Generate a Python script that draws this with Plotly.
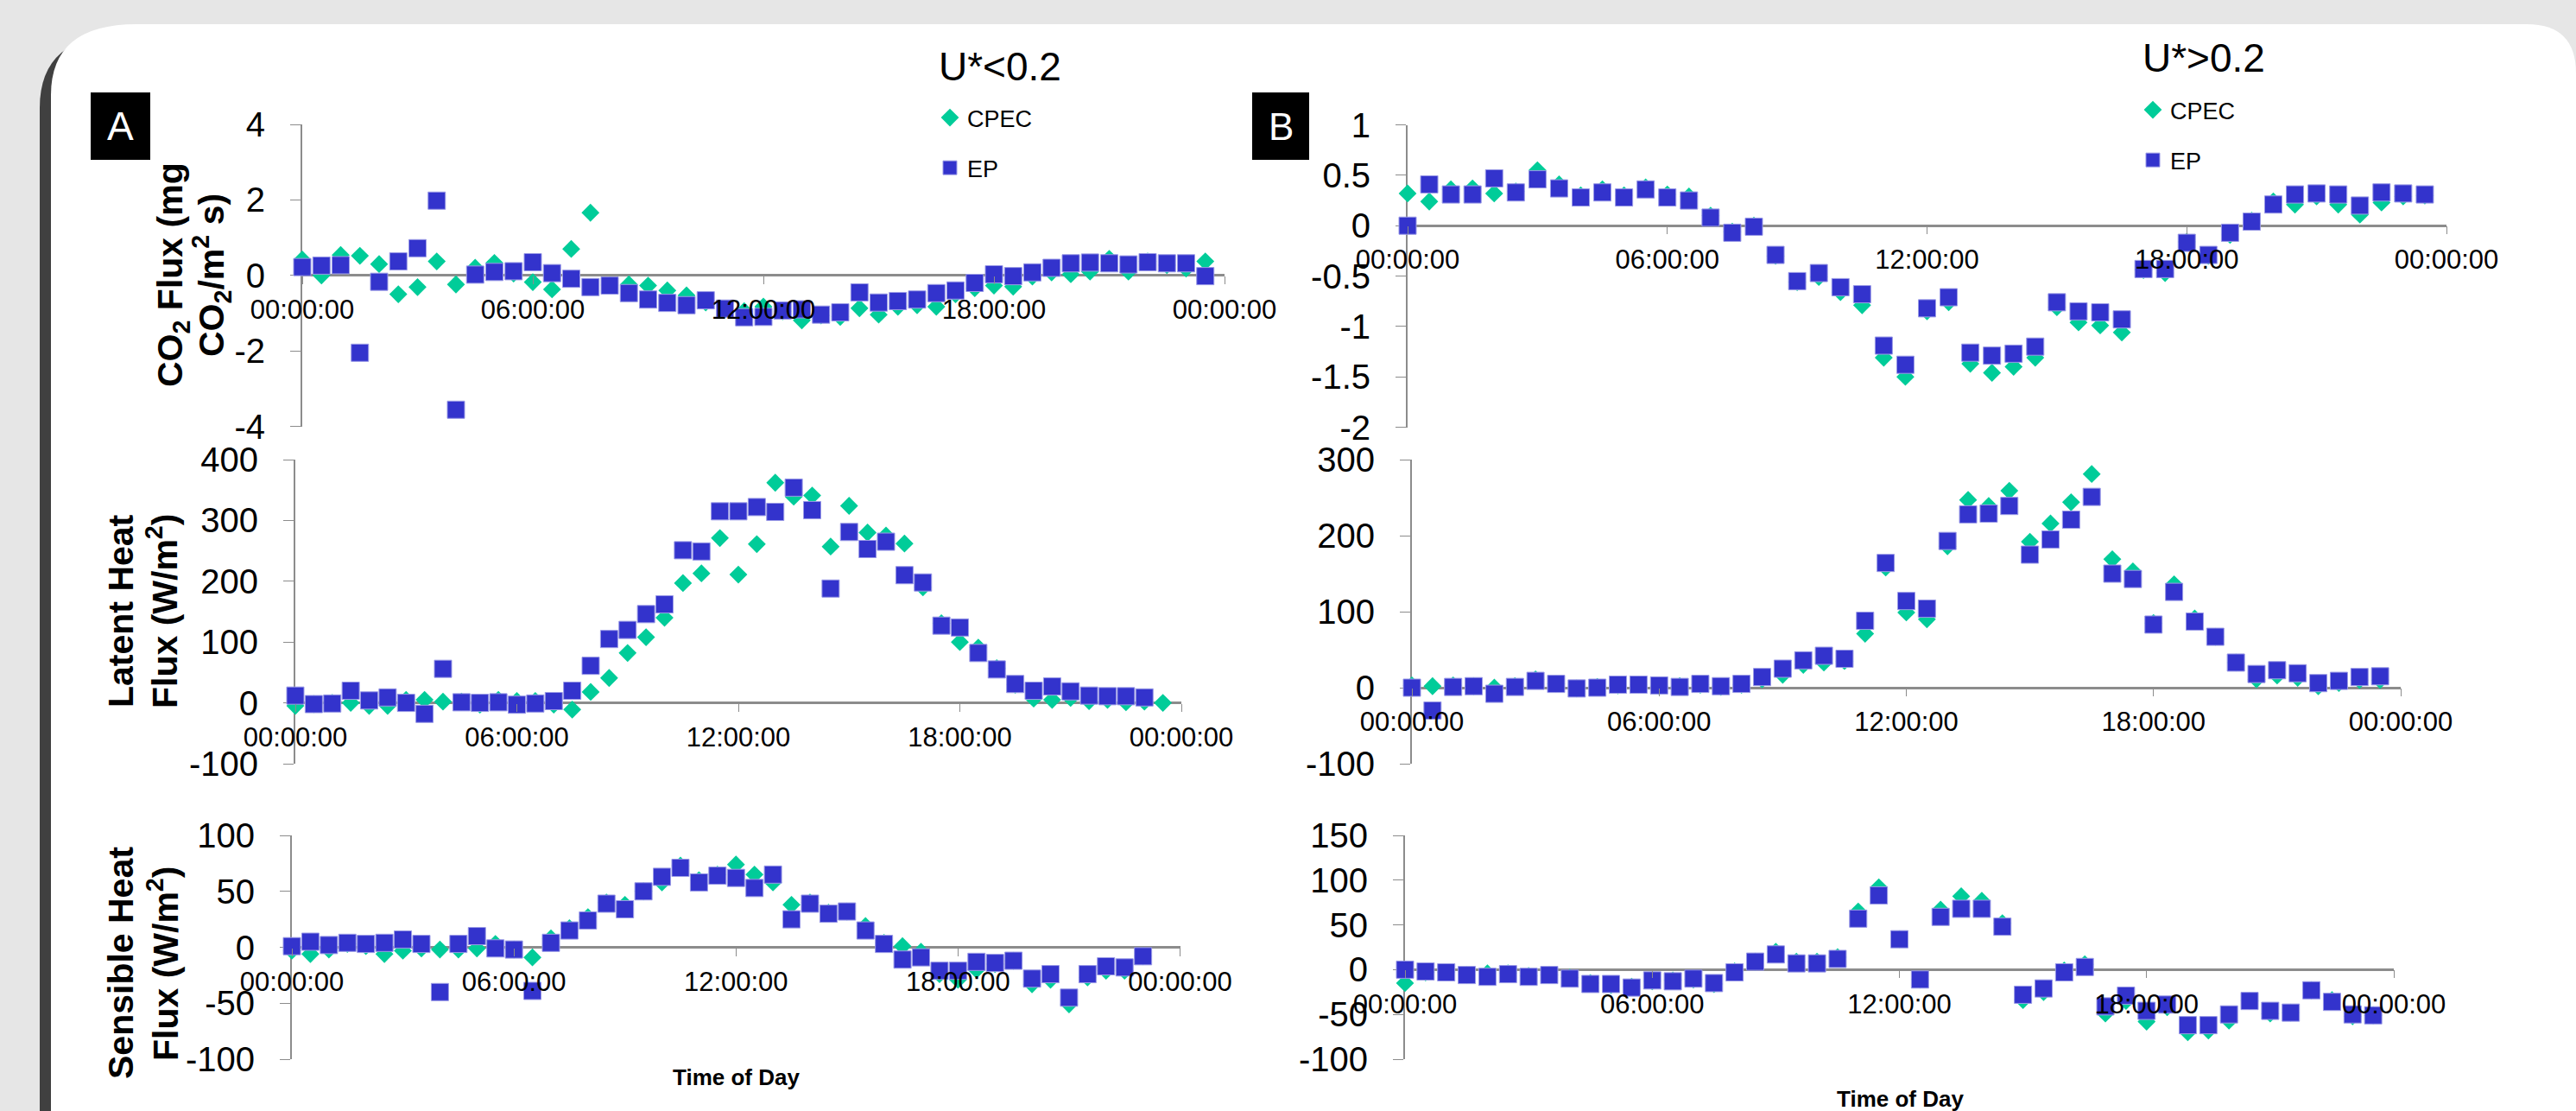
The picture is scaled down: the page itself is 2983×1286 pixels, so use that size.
import plotly.graph_objects as go

# ---------------- data ----------------
TIMES = ["00:00", "00:30", "01:00", "01:30", "02:00", "02:30", "03:00", "03:30",
         "04:00", "04:30", "05:00", "05:30", "06:00", "06:30", "07:00", "07:30",
         "08:00", "08:30", "09:00", "09:30", "10:00", "10:30", "11:00", "11:30",
         "12:00", "12:30", "13:00", "13:30", "14:00", "14:30", "15:00", "15:30",
         "16:00", "16:30", "17:00", "17:30", "18:00", "18:30", "19:00", "19:30",
         "20:00", "20:30", "21:00", "21:30", "22:00", "22:30", "23:00", "23:30"]

# U* < 0.2  (panel A)
CO2_LOW_CPEC = [0.42, 0.0, 0.54, 0.52, 0.3, -0.5, -0.31, 0.37, -0.24, 0.2, 0.33, 0.05,
                -0.18, -0.37, 0.7, 1.66, -0.26, -0.24, -0.27, -0.4, -0.53, -0.72, -0.9, -0.95,
                -0.83, -0.95, -1.19, -1.06, -1.1, -0.87, -1.04, -0.83, -0.79, -0.83, -0.5, -0.34,
                -0.27, -0.3, -0.03, 0.08, 0.03, 0.1, 0.44, 0.1, 0.37, 0.27, 0.18, 0.37]
CO2_LOW_EP = [0.22, 0.26, 0.27, -2.05, -0.17, 0.37, 0.72, 1.98, -3.56, 0.02, 0.09, 0.11,
              0.35, 0.06, -0.09, -0.31, -0.27, -0.47, -0.64, -0.73, -0.79, -0.66, -0.88, -1.11,
              -1.1, -0.93, -0.9, -1.04, -0.98, -0.45, -0.72, -0.68, -0.64, -0.47, -0.4, -0.2,
              0.03, -0.02, 0.08, 0.2, 0.32, 0.34, 0.32, 0.29, 0.35, 0.32, 0.32, -0.02]
LE_LOW_CPEC = [-5, -2, 0, 0, -5, -5, 5, 5, 2, 2, -3, 5,
               3, 3, -3, -11, 18, 41, 82, 108, 140, 197, 213, 271,
               211, 261, 362, 339, 341, 257, 324, 280, 275, 262, 190, 131,
               100, 91, 57, 30, 7, 5, 8, 3, 5, 1, 2, 0]
LE_LOW_EP = [12, -2, -1, 20, 4, 9, 0, -18, 56, 1, 0, 1,
             -3, -1, 3, 20, 61, 105, 120, 146, 162, 251, 249, 315,
             315, 322, 314, 354, 317, 188, 281, 253, 265, 210, 198, 127,
             124, 82, 55, 31, 20, 27, 19, 12, 11, 11, 9, None]
H_LOW_CPEC = [-3, -6, -2, 3, 1, -6, -3, -1, -2, -2, -1, 3,
              -2, -9, 8, 17, 27, 40, 38, 50, 58, 73, 60, 65,
              74, 65, 58, 38, 40, 31, 32, 19, 4, 1, -4, -24,
              -29, -20, -15, -12, -33, -29, -51, -27, -21, -21, -8, None]
H_LOW_EP = [1, 5, 2, 4, 3, 4, 7, 3, -40, 3, 10, -1,
            -2, -39, 4, 15, 24, 39, 34, 50, 63, 71, 58, 64,
            62, 53, 65, 25, 39, 30, 32, 15, 3, -11, -9, -21,
            -21, -13, -14, -12, -28, -24, -45, -24, -17, -18, -8, None]

# U* > 0.2  (panel B)
CO2_HIGH_CPEC = [0.32, 0.24, 0.36, 0.37, 0.32, 0.34, 0.55, 0.41, 0.3, 0.36, 0.3, 0.38,
                 0.31, 0.29, 0.1, -0.06, 0.0, -0.3, -0.56, -0.51, -0.66, -0.79, -1.31, -1.5,
                 -0.85, -0.76, -1.37, -1.46, -1.4, -1.31, -0.81, -0.96, -0.99, -1.06, -0.44, -0.47,
                 -0.16, -0.3, -0.09, 0.05, 0.24, 0.21, 0.29, 0.21, 0.11, 0.23, 0.29, 0.3]
CO2_HIGH_EP = [0.0, 0.41, 0.31, 0.31, 0.47, 0.33, 0.46, 0.37, 0.28, 0.33, 0.28, 0.36,
               0.28, 0.25, 0.08, -0.07, -0.01, -0.29, -0.55, -0.47, -0.61, -0.68, -1.19, -1.38,
               -0.82, -0.71, -1.26, -1.29, -1.27, -1.2, -0.76, -0.85, -0.86, -0.93, -0.43, -0.43,
               -0.17, -0.29, -0.07, 0.04, 0.21, 0.31, 0.32, 0.31, 0.2, 0.33, 0.32, 0.31]
LE_HIGH_CPEC = [3, 2, 3, 2, 0, 2, 11, 5, -1, 1, 3, 4,
                2, 2, 4, 1, 4, 11, 17, 30, 33, 35, 71, 158,
                99, 90, 186, 247, 239, 259, 192, 216, 244, 281, 169, 153,
                85, 136, 91, 67, 33, 11, 16, 13, 2, 6, 10, 10]
LE_HIGH_EP = [0, -30, 1, 2, -8, 1, 9, 5, -1, 0, 4, 4,
              3, 1, 5, 2, 5, 14, 25, 36, 42, 38, 88, 164,
              114, 104, 193, 228, 229, 239, 175, 195, 221, 251, 150, 143,
              83, 126, 87, 67, 33, 18, 23, 19, 6, 9, 14, 15]
H_HIGH_CPEC = [-15, -3, -3, -6, -4, -4, -7, -6, -9, -15, -17, -19,
               -13, -12, -11, -16, -2, 9, 20, 9, 9, 14, 65, 92,
               34, -11, 67, 82, 77, 52, -34, -25, -1, 6, -49, -35,
               -58, -42, -70, -68, -57, -35, -49, -48, -23, -34, -52, -51]
H_HIGH_EP = [0, -2, -3, -6, -8, -5, -8, -6, -10, -16, -16, -20,
             -12, -13, -10, -15, -3, 9, 17, 7, 7, 12, 57, 83,
             34, -11, 59, 68, 68, 48, -28, -21, -3, 3, -41, -29,
             -46, -39, -62, -62, -50, -35, -46, -48, -23, -36, -50, -51]

Y_TICKS_CO2_LOW = [-4, -2, 0, 2, 4]
Y_TICKS_CO2_HIGH = [-2, -1.5, -1, -0.5, 0, 0.5, 1]
Y_TICKS_LE_LOW = [-100, 0, 100, 200, 300, 400]
Y_TICKS_LE_HIGH = [-100, 0, 100, 200, 300]
Y_TICKS_H_LOW = [-100, -50, 0, 50, 100]
Y_TICKS_H_HIGH = [-100, -50, 0, 50, 100, 150]

SERIES_NAMES = ["CPEC", "EP"]

# ---------------- styling / layout ----------------
W, H = 2983, 1286
FONT = "Arial, Liberation Sans, sans-serif"
GREEN = "#00CC99"
BLUE = "#3333CC"
AXC = "#8c8c8c"


def fx(px):
    return px / W


def fy(py):
    return 1 - py / H


def fmt(v):
    return "%g" % v


X = ["2000-01-01 " + t + ":00" for t in TIMES]

panels = [
    dict(cpec=CO2_LOW_CPEC, ep=CO2_LOW_EP, xpx=(350, 1418), ypx=(144, 493.5), ticks=Y_TICKS_CO2_LOW, legend="legend"),
    dict(cpec=CO2_HIGH_CPEC, ep=CO2_HIGH_EP, xpx=(1630, 2833), ypx=(144.6, 494.5), ticks=Y_TICKS_CO2_HIGH, legend="legend2"),
    dict(cpec=LE_LOW_CPEC, ep=LE_LOW_EP, xpx=(342, 1368), ypx=(532, 884), ticks=Y_TICKS_LE_LOW, legend=None),
    dict(cpec=LE_HIGH_CPEC, ep=LE_HIGH_EP, xpx=(1635, 2780), ypx=(532, 884), ticks=Y_TICKS_LE_HIGH, legend=None),
    dict(cpec=H_LOW_CPEC, ep=H_LOW_EP, xpx=(338, 1366.5), ypx=(967, 1226), ticks=Y_TICKS_H_LOW, legend=None),
    dict(cpec=H_HIGH_CPEC, ep=H_HIGH_EP, xpx=(1627, 2772), ypx=(967, 1226), ticks=Y_TICKS_H_HIGH, legend=None),
]

fig = go.Figure()
layout_axes = {}
for i, p in enumerate(panels):
    n = "" if i == 0 else str(i + 1)
    xa, ya = "x" + n, "y" + n
    show = p["legend"] is not None
    leg = p["legend"] if show else "legend"
    fig.add_trace(go.Scatter(
        x=X, y=p["cpec"], mode="markers", name=SERIES_NAMES[0],
        marker=dict(symbol="diamond", size=16, color=GREEN, line=dict(width=0)),
        xaxis=xa, yaxis=ya, cliponaxis=False, showlegend=show, legend=leg,
        legendgroup="c" + n))
    fig.add_trace(go.Scatter(
        x=X, y=p["ep"], mode="markers", name=SERIES_NAMES[1],
        marker=dict(symbol="square", size=20, color=BLUE, line=dict(width=1, color="#9a9ae6")),
        xaxis=xa, yaxis=ya, cliponaxis=False, showlegend=show, legend=leg,
        legendgroup="e" + n))

    ymin, ymax = min(p["ticks"]), max(p["ticks"])
    y0f, y1f = fy(p["ypx"][1]), fy(p["ypx"][0])
    pos = y0f + (0 - ymin) / (ymax - ymin) * (y1f - y0f)
    layout_axes["xaxis" + n] = dict(
        domain=[fx(p["xpx"][0]), fx(p["xpx"][1])], anchor="free", position=pos,
        type="date", range=["2000-01-01 00:00:00", "2000-01-02 00:00:00"],
        tick0="2000-01-01 00:00:00", dtick=6 * 3600 * 1000, tickformat="%H:%M:%S",
        showline=False, ticks="outside", ticklen=9,
        tickcolor=AXC, tickwidth=1, showgrid=False, zeroline=False, automargin=False,
        tickfont=dict(family=FONT, size=31, color="black"), ticklabelstandoff=3)
    layout_axes["yaxis" + n] = dict(
        domain=[y0f, y1f], anchor=xa, range=[ymin, ymax],
        tickmode="array", tickvals=p["ticks"], ticktext=[fmt(v) for v in p["ticks"]],
        showline=True, linecolor=AXC, linewidth=2, ticks="outside", ticklen=12,
        tickcolor=AXC, tickwidth=1, showgrid=False, automargin=False,
        zeroline=True, zerolinecolor=AXC, zerolinewidth=3, layer="below traces",
        tickfont=dict(family=FONT, size=40, color="black"), ticklabelstandoff=21)


def P(px, py):
    return "%.5f,%.5f" % (fx(px), fy(py))


card_shadow = ("M " + P(46, 1300) + " L " + P(46, 125) + " Q " + P(46, 40) + " " + P(145, 40) +
               " L " + P(2900, 40) + " L " + P(2900, 1300) + " Z")
card = ("M " + P(59, 1300) + " L " + P(59, 110) + " Q " + P(59, 28) + " " + P(158, 28) +
        " L " + P(2926, 28) + " Q " + P(2983, 28) + " " + P(2983, 85) + " L " + P(2983, 1300) + " Z")

shapes = [
    dict(type="path", path=card_shadow, xref="paper", yref="paper", fillcolor="#404040",
         line=dict(width=0), layer="below"),
    dict(type="path", path=card, xref="paper", yref="paper", fillcolor="white",
         line=dict(width=0), layer="below"),
    dict(type="rect", xref="paper", yref="paper", x0=fx(105), x1=fx(174), y0=fy(185), y1=fy(107),
         fillcolor="black", line=dict(width=0), layer="above"),
    dict(type="rect", xref="paper", yref="paper", x0=fx(1450), x1=fx(1516), y0=fy(185), y1=fy(107),
         fillcolor="black", line=dict(width=0), layer="above"),
]


def ann(text, px, py, size, angle=0, color="black", bold=False):
    t = "<b>" + text + "</b>" if bold else text
    return dict(text=t, x=fx(px), y=fy(py), xref="paper", yref="paper", showarrow=False,
                xanchor="center", yanchor="middle", textangle=angle,
                font=dict(family=FONT, size=size, color=color))


annotations = [
    ann("A", 139.5, 146, 46, color="white"),
    ann("B", 1483, 146, 44, color="white"),
    ann("U*&lt;0.2", 1158, 77, 46),
    ann("U*&gt;0.2", 2552, 67, 46),
    ann("CO<sub>2</sub> Flux (mg", 200, 318, 41, angle=-90, bold=True),
    ann("CO<sub>2</sub>/m<sup>2</sup> s)", 245, 318, 41, angle=-90, bold=True),
    ann("Latent Heat", 140, 707, 41, angle=-90, bold=True),
    ann("Flux (W/m<sup>2</sup>)", 188, 707, 41, angle=-90, bold=True),
    ann("Sensible Heat", 140, 1115, 41, angle=-90, bold=True),
    ann("Flux (W/m<sup>2</sup>)", 189, 1115, 41, angle=-90, bold=True),
    ann("Time of Day", 852, 1247, 26, bold=True),
    ann("Time of Day", 2200, 1272, 26, bold=True),
]

legend_common = dict(xanchor="left", yanchor="top", bgcolor="rgba(0,0,0,0)", borderwidth=0,
                     font=dict(family=FONT, size=27, color="black"), traceorder="grouped",
                     tracegroupgap=20, itemwidth=30)

fig.update_layout(
    template="none",
    width=W, height=H, autosize=False,
    margin=dict(l=0, r=0, t=0, b=0, pad=0),
    paper_bgcolor="#e6e6e6", plot_bgcolor="rgba(0,0,0,0)",
    font=dict(family=FONT, color="black"),
    shapes=shapes, annotations=annotations,
    legend=dict(x=fx(1080), y=fy(112), **legend_common),
    legend2=dict(x=fx(2473), y=fy(103), **legend_common),
    **layout_axes,
)

fig.write_html("out.html", config={"displayModeBar": False},
               post_script="document.body.style.margin='0';document.body.style.overflow='hidden';")
